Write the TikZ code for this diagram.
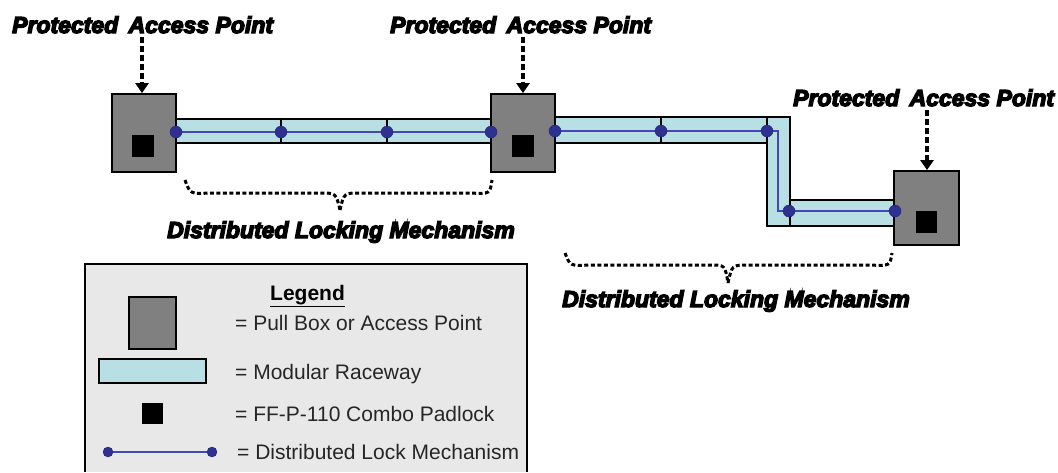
\documentclass[tikz,border=0pt]{standalone}
\usepackage{fontspec}
\setmainfont{Liberation Sans}
\newfontfamily\heavy{Liberation Sans}[BoldItalicFeatures={FakeBold=6}]
\usetikzlibrary{arrows.meta}
\definecolor{boxgray}{RGB}{128,128,128}
\definecolor{racecyan}{RGB}{184,224,228}
\definecolor{dotblue}{RGB}{46,49,146}
\definecolor{lineblue}{RGB}{70,70,180}
\definecolor{legbg}{RGB}{232,232,232}
\tikzset{
  pullbox/.style={draw=black, line width=1.8pt, fill=boxgray, inner sep=0pt, minimum width=#1},
  padlock/.style={fill=black, inner sep=0pt, minimum width=22pt, minimum height=22pt},
  race/.style={draw=black, line width=1.4pt, fill=racecyan},
  lockline/.style={draw=lineblue, line width=1.3pt},
  lockdot/.style={circle, fill=dotblue, draw=dotblue!70!black, line width=0.4pt, inner sep=0pt, minimum size=12pt},
  heading/.style={font=\heavy\bfseries\itshape\fontsize{23}{26}\selectfont, inner sep=0pt, anchor=base west},
  legtext/.style={font=\fontsize{21}{24}\selectfont, inner sep=0pt, anchor=base west, text=black!85},
  pointer/.style={draw=black, line width=3.2pt, dash pattern=on 6pt off 3pt, -{Triangle[length=10pt,width=13pt]}},
  brace/.style={draw=black, line width=3pt, dash pattern=on 4pt off 2.5pt}
}
\begin{document}
\begin{tikzpicture}[x=1pt,y=-1pt]
\useasboundingbox (0,0) rectangle (1058,472);
% legend background
\fill[legbg] (85,264) rectangle (527,472);
\draw[black, line width=1.3pt] (85,472) -- (85,264) -- (527,264) -- (527,472);

% raceways
\draw[race] (176,119) rectangle (281,143);
\draw[race] (281,119) rectangle (387,143);
\draw[race] (387,119) rectangle (491,143);
\draw[race] (555,117) rectangle (661,143);
\draw[race] (661,117) rectangle (767,143);
\draw[race] (767,117) rectangle (790,226);
\draw[race] (790,200) rectangle (895,226);

% boxes
\node[pullbox=64pt, minimum height=78pt] (b1) at (144,133) {};
\node[pullbox=64pt, minimum height=78pt] (b2) at (523,133) {};
\node[pullbox=65pt, minimum height=74pt] (b3) at (926.5,208) {};
\node[padlock] (p1) at (142.5,145.5) {};
\node[padlock] (p2) at (523,145.5) {};
\node[padlock, minimum width=21pt] (p3) at (926.5,222) {};

% lock mechanism
\coordinate (c1) at (176,132);
\coordinate (c2) at (281,132);
\coordinate (c3) at (387,132);
\coordinate (c4) at (491,132);
\coordinate (c5) at (555,131);
\coordinate (c6) at (661,131);
\coordinate (c7) at (767,131);
\coordinate (c8) at (789,211);
\coordinate (c9) at (895,211);
\coordinate (t1) at (778,131);
\coordinate (t2) at (778,211);
\draw[lockline] (c1) -- (c2) -- (c3) -- (c4);
\draw[lockline] (c5) -- (c6) -- (c7) -- (t1) -- (t2) -- (c8) -- (c9);
\foreach \c in {1,...,9}
  \node[lockdot] (d\c) at (c\c) {};

% headings
\node[heading] (h1) at (12,33) {Protected\hspace{0.45em}Access Point};
\node[heading] (h2) at (390,33) {Protected\hspace{0.45em}Access Point};
\node[heading] (h3) at (793,106) {Protected\hspace{0.45em}Access Point};
\coordinate (a1) at (142,37);
\coordinate (a2) at (523,37);
\coordinate (a3) at (927,110);
\draw[pointer] (a1) -- (a1 |- b1.north);
\draw[pointer] (a2) -- (a2 |- b2.north);
\draw[pointer] (a3) -- (a3 |- b3.north);

% braces
\draw[brace] (185,180) .. controls (190,194) .. (210,193) -- (320,193) .. controls (336,193) .. (340,210);
\draw[brace] (340,210) .. controls (344,193) .. (360,193) -- (470,193) .. controls (490,194) .. (492,180);
\draw[brace] (565,253) .. controls (570,266) .. (590,265) -- (710,265) .. controls (725,265) .. (728,283);
\draw[brace] (728,283) .. controls (732,265) .. (748,265) -- (870,265) .. controls (890,266) .. (892,253);
\node[heading] (m1) at (167,238) {Distributed Locking Mechanism};
\node[heading] (m2) at (562,307) {Distributed Locking Mechanism};

% legend
\node[font=\bfseries\fontsize{21}{24}\selectfont, inner sep=0pt, anchor=base west] (lg) at (270,300) {\underline{Legend}};
\node[draw=black, line width=1.4pt, fill=boxgray, minimum width=47pt, minimum height=52pt, inner sep=0pt] (lb) at (152.5,323) {};
\node[legtext] (l1) at (235,330) {= Pull Box or Access Point};
\node[draw=black, line width=1.4pt, fill=racecyan, minimum width=107pt, minimum height=24pt, inner sep=0pt] (lr) at (152.5,371) {};
\node[legtext] (l2) at (235,379) {= Modular Raceway};
\node[padlock, minimum width=21pt, minimum height=21pt] (lp) at (152.5,413.5) {};
\node[legtext] (l3) at (235,421) {= FF-P-110 Combo Padlock};
\node[lockdot, minimum size=10pt] (ld1) at (108,452) {};
\node[lockdot, minimum size=10pt] (ld2) at (212,452) {};
\draw[lockline] (ld1) -- (ld2);
\node[legtext] (l4) at (237,459) {= Distributed Lock Mechanism};
\end{tikzpicture}
\end{document}
